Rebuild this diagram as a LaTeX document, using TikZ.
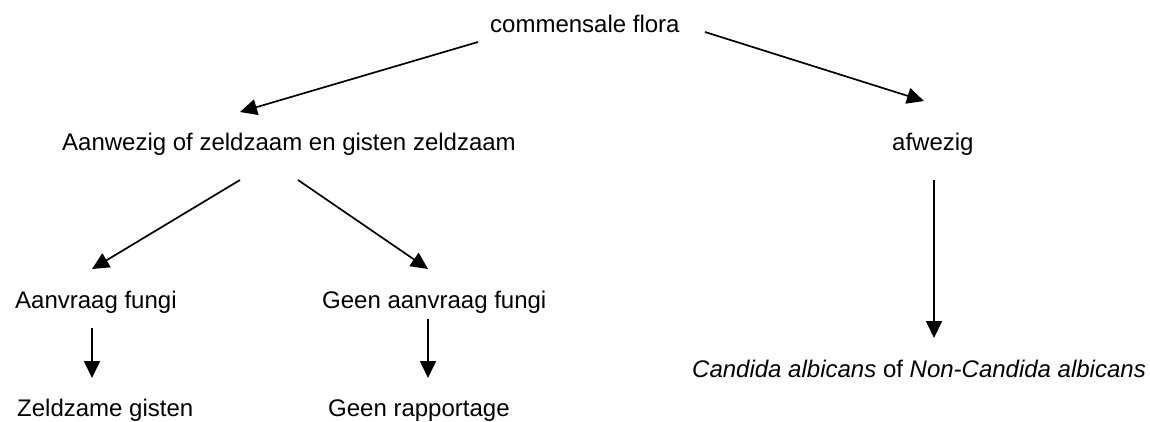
\documentclass[tikz,border=0pt]{standalone}
\usepackage{fontspec}
\setmainfont{Liberation Sans}
\usetikzlibrary{arrows.meta}
\begin{document}
\begin{tikzpicture}[x=1pt,y=-1pt,
  lbl/.style={anchor=base west,inner sep=0pt,font=\fontsize{24}{28}\selectfont},
  arr/.style={line width=1.7pt,-{Triangle[width=16pt,length=17pt]}}]
\useasboundingbox[fill=white] (0,0) rectangle (1150,421);
% texts
\node[lbl] (root) at (490,32) {commensale flora};
\node[lbl] (aanw) at (62,150) {Aanwezig of zeldzaam en gisten zeldzaam};
\node[lbl] (afw) at (892,150) {afwezig};
\node[lbl] (aanv) at (15,308) {Aanvraag fungi};
\node[lbl] (geen) at (322,308) {Geen aanvraag fungi};
\node[lbl] (zeld) at (17,416) {Zeldzame gisten};
\node[lbl] (rapp) at (328,416) {Geen rapportage};
\node[lbl] (cand) at (692,377) {\textit{Candida albicans} of \textit{Non-Candida albicans}};
% connector end points
\coordinate (r1) at (478,42);   \coordinate (t1) at (240,112);
\coordinate (r2) at (705,32);   \coordinate (t2) at (924,101);
\coordinate (a1) at (240,180);  \coordinate (t3) at (92,269);
\coordinate (a2) at (298,180);  \coordinate (t4) at (428,269);
\coordinate (v1) at (92,328);   \coordinate (t5) at (92,378);
\coordinate (v2) at (428,319);  \coordinate (t6) at (428,378);
\coordinate (v3) at (934,180);  \coordinate (t7) at (934,338);
% connectors
\draw[arr] (r1) -- (t1);
\draw[arr] (r2) -- (t2);
\draw[arr] (a1) -- (t3);
\draw[arr] (a2) -- (t4);
\draw[arr] (v1) -- (t5);
\draw[arr] (v2) -- (t6);
\draw[arr] (v3) -- (t7);
\end{tikzpicture}
\end{document}
